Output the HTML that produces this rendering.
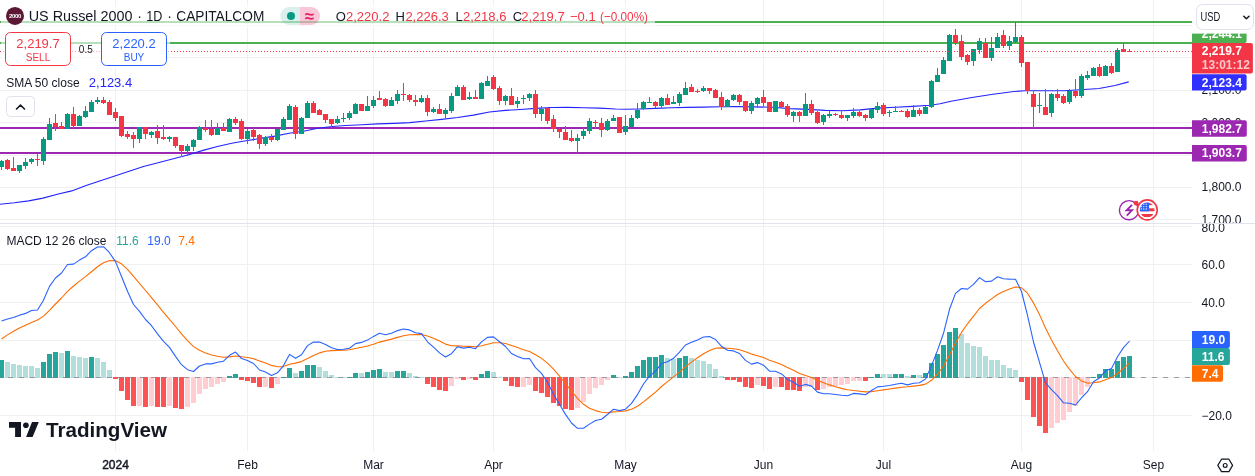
<!DOCTYPE html>
<html><head><meta charset="utf-8"><style>
*{margin:0;padding:0;box-sizing:border-box}
html,body{width:1255px;height:476px;overflow:hidden;background:#fff}
body{position:relative;font-family:"Liberation Sans",Arial,sans-serif;color:#131722}
.a{position:absolute;white-space:pre;line-height:1}
svg{position:absolute;left:0;top:0}
</style></head><body>
<svg width="1255" height="476" viewBox="0 0 1255 476">
<line x1="0" y1="25.5" x2="1192" y2="25.5" stroke="#f0f0f0" stroke-width="1"/>
<line x1="0" y1="57.5" x2="1192" y2="57.5" stroke="#f0f0f0" stroke-width="1"/>
<line x1="0" y1="90.5" x2="1192" y2="90.5" stroke="#f0f0f0" stroke-width="1"/>
<line x1="0" y1="122.5" x2="1192" y2="122.5" stroke="#f0f0f0" stroke-width="1"/>
<line x1="0" y1="155.5" x2="1192" y2="155.5" stroke="#f0f0f0" stroke-width="1"/>
<line x1="0" y1="187.5" x2="1192" y2="187.5" stroke="#f0f0f0" stroke-width="1"/>
<line x1="0" y1="219.5" x2="1192" y2="219.5" stroke="#f0f0f0" stroke-width="1"/>
<line x1="0" y1="226.5" x2="1192" y2="226.5" stroke="#f0f0f0" stroke-width="1"/>
<line x1="0" y1="264.5" x2="1192" y2="264.5" stroke="#f0f0f0" stroke-width="1"/>
<line x1="0" y1="302.5" x2="1192" y2="302.5" stroke="#f0f0f0" stroke-width="1"/>
<line x1="0" y1="340.5" x2="1192" y2="340.5" stroke="#f0f0f0" stroke-width="1"/>
<line x1="0" y1="377.5" x2="1192" y2="377.5" stroke="#f0f0f0" stroke-width="1"/>
<line x1="0" y1="415.5" x2="1192" y2="415.5" stroke="#f0f0f0" stroke-width="1"/>
<line x1="115.5" y1="0" x2="115.5" y2="223" stroke="#f0f0f0" stroke-width="1"/>
<line x1="115.5" y1="224" x2="115.5" y2="451" stroke="#f0f0f0" stroke-width="1"/>
<line x1="247.5" y1="0" x2="247.5" y2="223" stroke="#f0f0f0" stroke-width="1"/>
<line x1="247.5" y1="224" x2="247.5" y2="451" stroke="#f0f0f0" stroke-width="1"/>
<line x1="373.5" y1="0" x2="373.5" y2="223" stroke="#f0f0f0" stroke-width="1"/>
<line x1="373.5" y1="224" x2="373.5" y2="451" stroke="#f0f0f0" stroke-width="1"/>
<line x1="493.5" y1="0" x2="493.5" y2="223" stroke="#f0f0f0" stroke-width="1"/>
<line x1="493.5" y1="224" x2="493.5" y2="451" stroke="#f0f0f0" stroke-width="1"/>
<line x1="625.5" y1="0" x2="625.5" y2="223" stroke="#f0f0f0" stroke-width="1"/>
<line x1="625.5" y1="224" x2="625.5" y2="451" stroke="#f0f0f0" stroke-width="1"/>
<line x1="763.5" y1="0" x2="763.5" y2="223" stroke="#f0f0f0" stroke-width="1"/>
<line x1="763.5" y1="224" x2="763.5" y2="451" stroke="#f0f0f0" stroke-width="1"/>
<line x1="883.5" y1="0" x2="883.5" y2="223" stroke="#f0f0f0" stroke-width="1"/>
<line x1="883.5" y1="224" x2="883.5" y2="451" stroke="#f0f0f0" stroke-width="1"/>
<line x1="1021.5" y1="0" x2="1021.5" y2="223" stroke="#f0f0f0" stroke-width="1"/>
<line x1="1021.5" y1="224" x2="1021.5" y2="451" stroke="#f0f0f0" stroke-width="1"/>
<line x1="1153.5" y1="0" x2="1153.5" y2="223" stroke="#f0f0f0" stroke-width="1"/>
<line x1="1153.5" y1="224" x2="1153.5" y2="451" stroke="#f0f0f0" stroke-width="1"/>
<line x1="0" y1="22" x2="1192" y2="22" stroke="#4caf50" stroke-width="2"/>
<line x1="0" y1="43" x2="1192" y2="43" stroke="#4caf50" stroke-width="2"/>
<line x1="0" y1="128" x2="1192" y2="128" stroke="#9c27b0" stroke-width="2"/>
<line x1="0" y1="153" x2="1192" y2="153" stroke="#9c27b0" stroke-width="2"/>
<polyline points="0.0,204.2 14.3,202.8 28.7,200.9 43.0,198.1 57.4,194.2 71.7,190.9 86.1,185.6 100.4,180.8 114.8,176.1 129.1,171.2 143.5,166.5 160.0,162.3 174.3,158.5 188.7,154.7 203.0,150.4 217.4,146.5 231.7,143.2 246.0,140.8 260.4,138.4 274.8,136.1 289.1,133.2 303.5,131.2 317.8,128.3 332.2,126.5 345.9,125.5 361.9,124.7 377.8,123.9 393.7,123.4 409.7,122.6 425.6,121.0 441.6,119.4 457.5,117.5 473.4,115.1 489.4,112.0 505.3,110.4 520.0,109.5 535.9,108.4 551.9,107.5 567.8,107.4 583.7,107.7 599.7,108.1 615.6,109.0 625.2,109.3 639.5,109.0 655.5,108.4 671.4,107.7 687.3,107.4 703.3,107.1 720.0,106.7 737.5,106.5 755.0,106.9 772.6,107.3 790.1,108.6 807.6,109.4 825.2,110.4 842.7,110.8 860.2,109.9 877.8,108.1 895.3,107.3 912.8,106.4 930.3,105.2 940.0,103.8 951.0,101.3 972.0,97.5 993.0,94.2 1014.0,91.5 1024.5,90.8 1045.0,90.7 1064.0,90.8 1080.0,89.8 1099.0,88.5 1115.0,85.5 1128.7,81.9" fill="none" stroke="#2424ff" stroke-width="1.1" stroke-linejoin="round"/>
<rect x="1" y="160" width="1" height="10" fill="#089981"/>
<rect x="-1" y="161" width="5" height="6" fill="#089981"/>
<rect x="7" y="159" width="1" height="11" fill="#f23645"/>
<rect x="5" y="160" width="5" height="9" fill="#f23645"/>
<rect x="13" y="157" width="1" height="14" fill="#f23645"/>
<rect x="11" y="168" width="5" height="3" fill="#f23645"/>
<rect x="19" y="165" width="1" height="8" fill="#089981"/>
<rect x="17" y="165" width="5" height="6" fill="#089981"/>
<rect x="25" y="158" width="1" height="11" fill="#089981"/>
<rect x="23" y="162" width="5" height="4" fill="#089981"/>
<rect x="31" y="158" width="1" height="6" fill="#089981"/>
<rect x="29" y="159" width="5" height="3" fill="#089981"/>
<rect x="37" y="154" width="1" height="12" fill="#f23645"/>
<rect x="35" y="159" width="5" height="1" fill="#f23645"/>
<rect x="43" y="137" width="1" height="28" fill="#089981"/>
<rect x="41" y="139" width="5" height="22" fill="#089981"/>
<rect x="49" y="118" width="1" height="22" fill="#089981"/>
<rect x="47" y="124" width="5" height="16" fill="#089981"/>
<rect x="55" y="114" width="1" height="17" fill="#f23645"/>
<rect x="53" y="123" width="5" height="4" fill="#f23645"/>
<rect x="61" y="122" width="1" height="7" fill="#f23645"/>
<rect x="59" y="126" width="5" height="3" fill="#f23645"/>
<rect x="67" y="113" width="1" height="16" fill="#089981"/>
<rect x="65" y="114" width="5" height="15" fill="#089981"/>
<rect x="73" y="107" width="1" height="21" fill="#f23645"/>
<rect x="71" y="114" width="5" height="12" fill="#f23645"/>
<rect x="79" y="115" width="1" height="11" fill="#089981"/>
<rect x="77" y="116" width="5" height="10" fill="#089981"/>
<rect x="85" y="106" width="1" height="12" fill="#089981"/>
<rect x="83" y="111" width="5" height="6" fill="#089981"/>
<rect x="91" y="100" width="1" height="12" fill="#089981"/>
<rect x="89" y="102" width="5" height="10" fill="#089981"/>
<rect x="97" y="97" width="1" height="7" fill="#089981"/>
<rect x="95" y="100" width="5" height="2" fill="#089981"/>
<rect x="103" y="97" width="1" height="7" fill="#f23645"/>
<rect x="101" y="100" width="5" height="3" fill="#f23645"/>
<rect x="109" y="100" width="1" height="15" fill="#f23645"/>
<rect x="107" y="102" width="5" height="13" fill="#f23645"/>
<rect x="115" y="108" width="1" height="13" fill="#f23645"/>
<rect x="113" y="112" width="5" height="6" fill="#f23645"/>
<rect x="121" y="116" width="1" height="21" fill="#f23645"/>
<rect x="119" y="116" width="5" height="20" fill="#f23645"/>
<rect x="127" y="131" width="1" height="8" fill="#f23645"/>
<rect x="125" y="134" width="5" height="3" fill="#f23645"/>
<rect x="133" y="132" width="1" height="16" fill="#f23645"/>
<rect x="131" y="135" width="5" height="4" fill="#f23645"/>
<rect x="139" y="127" width="1" height="16" fill="#089981"/>
<rect x="137" y="127" width="5" height="12" fill="#089981"/>
<rect x="145" y="127" width="1" height="12" fill="#f23645"/>
<rect x="143" y="127" width="5" height="7" fill="#f23645"/>
<rect x="151" y="131" width="1" height="7" fill="#089981"/>
<rect x="149" y="132" width="5" height="3" fill="#089981"/>
<rect x="157" y="125" width="1" height="19" fill="#f23645"/>
<rect x="155" y="131" width="5" height="7" fill="#f23645"/>
<rect x="163" y="125" width="1" height="15" fill="#f23645"/>
<rect x="161" y="137" width="5" height="2" fill="#f23645"/>
<rect x="169" y="136" width="1" height="6" fill="#089981"/>
<rect x="167" y="137" width="5" height="2" fill="#089981"/>
<rect x="175" y="137" width="1" height="11" fill="#f23645"/>
<rect x="173" y="137" width="5" height="9" fill="#f23645"/>
<rect x="181" y="145" width="1" height="12" fill="#f23645"/>
<rect x="179" y="145" width="5" height="6" fill="#f23645"/>
<rect x="187" y="144" width="1" height="12" fill="#089981"/>
<rect x="185" y="146" width="5" height="5" fill="#089981"/>
<rect x="193" y="139" width="1" height="12" fill="#089981"/>
<rect x="191" y="140" width="5" height="7" fill="#089981"/>
<rect x="199" y="126" width="1" height="14" fill="#089981"/>
<rect x="197" y="127" width="5" height="13" fill="#089981"/>
<rect x="205" y="120" width="1" height="12" fill="#f23645"/>
<rect x="203" y="128" width="5" height="2" fill="#f23645"/>
<rect x="211" y="120" width="1" height="16" fill="#f23645"/>
<rect x="209" y="129" width="5" height="6" fill="#f23645"/>
<rect x="217" y="123" width="1" height="12" fill="#089981"/>
<rect x="215" y="128" width="5" height="7" fill="#089981"/>
<rect x="223" y="123" width="1" height="8" fill="#f23645"/>
<rect x="221" y="128" width="5" height="3" fill="#f23645"/>
<rect x="229" y="118" width="1" height="14" fill="#089981"/>
<rect x="227" y="119" width="5" height="13" fill="#089981"/>
<rect x="235" y="117" width="1" height="8" fill="#f23645"/>
<rect x="233" y="119" width="5" height="4" fill="#f23645"/>
<rect x="241" y="119" width="1" height="21" fill="#f23645"/>
<rect x="239" y="121" width="5" height="18" fill="#f23645"/>
<rect x="247" y="129" width="1" height="15" fill="#089981"/>
<rect x="245" y="131" width="5" height="8" fill="#089981"/>
<rect x="253" y="128" width="1" height="13" fill="#f23645"/>
<rect x="251" y="130" width="5" height="7" fill="#f23645"/>
<rect x="259" y="134" width="1" height="15" fill="#f23645"/>
<rect x="257" y="135" width="5" height="9" fill="#f23645"/>
<rect x="265" y="136" width="1" height="10" fill="#089981"/>
<rect x="263" y="137" width="5" height="7" fill="#089981"/>
<rect x="271" y="134" width="1" height="8" fill="#f23645"/>
<rect x="269" y="137" width="5" height="3" fill="#f23645"/>
<rect x="277" y="129" width="1" height="12" fill="#089981"/>
<rect x="275" y="129" width="5" height="11" fill="#089981"/>
<rect x="283" y="117" width="1" height="13" fill="#089981"/>
<rect x="281" y="119" width="5" height="11" fill="#089981"/>
<rect x="289" y="104" width="1" height="16" fill="#089981"/>
<rect x="287" y="106" width="5" height="14" fill="#089981"/>
<rect x="295" y="105" width="1" height="34" fill="#f23645"/>
<rect x="293" y="107" width="5" height="27" fill="#f23645"/>
<rect x="301" y="117" width="1" height="17" fill="#089981"/>
<rect x="299" y="118" width="5" height="16" fill="#089981"/>
<rect x="307" y="101" width="1" height="17" fill="#089981"/>
<rect x="305" y="103" width="5" height="15" fill="#089981"/>
<rect x="313" y="101" width="1" height="12" fill="#f23645"/>
<rect x="311" y="103" width="5" height="10" fill="#f23645"/>
<rect x="319" y="109" width="1" height="6" fill="#f23645"/>
<rect x="317" y="110" width="5" height="5" fill="#f23645"/>
<rect x="325" y="114" width="1" height="9" fill="#f23645"/>
<rect x="323" y="114" width="5" height="6" fill="#f23645"/>
<rect x="331" y="119" width="1" height="9" fill="#f23645"/>
<rect x="329" y="119" width="5" height="5" fill="#f23645"/>
<rect x="337" y="116" width="1" height="8" fill="#089981"/>
<rect x="335" y="119" width="5" height="4" fill="#089981"/>
<rect x="343" y="113" width="1" height="9" fill="#089981"/>
<rect x="341" y="118" width="5" height="1" fill="#089981"/>
<rect x="349" y="111" width="1" height="9" fill="#089981"/>
<rect x="347" y="113" width="5" height="5" fill="#089981"/>
<rect x="355" y="103" width="1" height="11" fill="#089981"/>
<rect x="353" y="104" width="5" height="10" fill="#089981"/>
<rect x="361" y="104" width="1" height="7" fill="#f23645"/>
<rect x="359" y="104" width="5" height="7" fill="#f23645"/>
<rect x="367" y="96" width="1" height="15" fill="#089981"/>
<rect x="365" y="106" width="5" height="5" fill="#089981"/>
<rect x="373" y="96" width="1" height="12" fill="#089981"/>
<rect x="371" y="100" width="5" height="6" fill="#089981"/>
<rect x="379" y="91" width="1" height="9" fill="#f23645"/>
<rect x="377" y="98" width="5" height="2" fill="#f23645"/>
<rect x="385" y="98" width="1" height="9" fill="#f23645"/>
<rect x="383" y="99" width="5" height="7" fill="#f23645"/>
<rect x="391" y="97" width="1" height="9" fill="#089981"/>
<rect x="389" y="100" width="5" height="6" fill="#089981"/>
<rect x="397" y="90" width="1" height="14" fill="#089981"/>
<rect x="395" y="94" width="5" height="7" fill="#089981"/>
<rect x="403" y="83" width="1" height="18" fill="#f23645"/>
<rect x="401" y="94" width="5" height="1" fill="#f23645"/>
<rect x="409" y="94" width="1" height="8" fill="#f23645"/>
<rect x="407" y="95" width="5" height="5" fill="#f23645"/>
<rect x="415" y="95" width="1" height="11" fill="#f23645"/>
<rect x="413" y="100" width="5" height="2" fill="#f23645"/>
<rect x="421" y="95" width="1" height="8" fill="#089981"/>
<rect x="419" y="98" width="5" height="4" fill="#089981"/>
<rect x="427" y="95" width="1" height="21" fill="#f23645"/>
<rect x="425" y="98" width="5" height="14" fill="#f23645"/>
<rect x="433" y="107" width="1" height="6" fill="#089981"/>
<rect x="431" y="109" width="5" height="3" fill="#089981"/>
<rect x="439" y="104" width="1" height="10" fill="#f23645"/>
<rect x="437" y="109" width="5" height="5" fill="#f23645"/>
<rect x="445" y="108" width="1" height="11" fill="#089981"/>
<rect x="443" y="110" width="5" height="4" fill="#089981"/>
<rect x="451" y="93" width="1" height="20" fill="#089981"/>
<rect x="449" y="96" width="5" height="15" fill="#089981"/>
<rect x="457" y="85" width="1" height="11" fill="#089981"/>
<rect x="455" y="87" width="5" height="9" fill="#089981"/>
<rect x="463" y="85" width="1" height="15" fill="#f23645"/>
<rect x="461" y="87" width="5" height="13" fill="#f23645"/>
<rect x="469" y="92" width="1" height="8" fill="#089981"/>
<rect x="467" y="97" width="5" height="2" fill="#089981"/>
<rect x="475" y="90" width="1" height="9" fill="#f23645"/>
<rect x="473" y="97" width="5" height="2" fill="#f23645"/>
<rect x="481" y="82" width="1" height="17" fill="#089981"/>
<rect x="479" y="83" width="5" height="16" fill="#089981"/>
<rect x="487" y="76" width="1" height="10" fill="#089981"/>
<rect x="485" y="81" width="5" height="5" fill="#089981"/>
<rect x="493" y="75" width="1" height="15" fill="#f23645"/>
<rect x="491" y="77" width="5" height="12" fill="#f23645"/>
<rect x="499" y="86" width="1" height="19" fill="#f23645"/>
<rect x="497" y="88" width="5" height="13" fill="#f23645"/>
<rect x="505" y="95" width="1" height="10" fill="#089981"/>
<rect x="503" y="96" width="5" height="5" fill="#089981"/>
<rect x="511" y="88" width="1" height="17" fill="#f23645"/>
<rect x="509" y="96" width="5" height="9" fill="#f23645"/>
<rect x="517" y="97" width="1" height="11" fill="#089981"/>
<rect x="515" y="101" width="5" height="3" fill="#089981"/>
<rect x="523" y="95" width="1" height="9" fill="#089981"/>
<rect x="521" y="98" width="5" height="1" fill="#089981"/>
<rect x="529" y="93" width="1" height="8" fill="#089981"/>
<rect x="527" y="94" width="5" height="4" fill="#089981"/>
<rect x="535" y="90" width="1" height="28" fill="#f23645"/>
<rect x="533" y="94" width="5" height="20" fill="#f23645"/>
<rect x="541" y="106" width="1" height="15" fill="#089981"/>
<rect x="539" y="109" width="5" height="5" fill="#089981"/>
<rect x="547" y="107" width="1" height="17" fill="#f23645"/>
<rect x="545" y="108" width="5" height="13" fill="#f23645"/>
<rect x="553" y="115" width="1" height="17" fill="#f23645"/>
<rect x="551" y="119" width="5" height="10" fill="#f23645"/>
<rect x="559" y="128" width="1" height="10" fill="#f23645"/>
<rect x="557" y="129" width="5" height="3" fill="#f23645"/>
<rect x="565" y="126" width="1" height="14" fill="#f23645"/>
<rect x="563" y="132" width="5" height="8" fill="#f23645"/>
<rect x="571" y="130" width="1" height="12" fill="#f23645"/>
<rect x="569" y="138" width="5" height="3" fill="#f23645"/>
<rect x="577" y="134" width="1" height="19" fill="#089981"/>
<rect x="575" y="138" width="5" height="3" fill="#089981"/>
<rect x="583" y="128" width="1" height="11" fill="#089981"/>
<rect x="581" y="131" width="5" height="5" fill="#089981"/>
<rect x="589" y="118" width="1" height="16" fill="#089981"/>
<rect x="587" y="121" width="5" height="10" fill="#089981"/>
<rect x="595" y="120" width="1" height="8" fill="#f23645"/>
<rect x="593" y="122" width="5" height="1" fill="#f23645"/>
<rect x="601" y="118" width="1" height="19" fill="#f23645"/>
<rect x="599" y="123" width="5" height="7" fill="#f23645"/>
<rect x="607" y="119" width="1" height="12" fill="#089981"/>
<rect x="605" y="121" width="5" height="9" fill="#089981"/>
<rect x="613" y="115" width="1" height="6" fill="#089981"/>
<rect x="611" y="118" width="5" height="3" fill="#089981"/>
<rect x="619" y="117" width="1" height="16" fill="#f23645"/>
<rect x="617" y="117" width="5" height="16" fill="#f23645"/>
<rect x="625" y="115" width="1" height="20" fill="#089981"/>
<rect x="623" y="126" width="5" height="6" fill="#089981"/>
<rect x="631" y="115" width="1" height="12" fill="#089981"/>
<rect x="629" y="118" width="5" height="9" fill="#089981"/>
<rect x="637" y="103" width="1" height="16" fill="#089981"/>
<rect x="635" y="110" width="5" height="8" fill="#089981"/>
<rect x="643" y="101" width="1" height="9" fill="#089981"/>
<rect x="641" y="102" width="5" height="7" fill="#089981"/>
<rect x="649" y="97" width="1" height="6" fill="#089981"/>
<rect x="647" y="102" width="5" height="1" fill="#089981"/>
<rect x="655" y="101" width="1" height="7" fill="#f23645"/>
<rect x="653" y="102" width="5" height="4" fill="#f23645"/>
<rect x="661" y="97" width="1" height="11" fill="#089981"/>
<rect x="659" y="98" width="5" height="8" fill="#089981"/>
<rect x="667" y="94" width="1" height="11" fill="#f23645"/>
<rect x="665" y="98" width="5" height="7" fill="#f23645"/>
<rect x="673" y="96" width="1" height="8" fill="#089981"/>
<rect x="671" y="102" width="5" height="2" fill="#089981"/>
<rect x="679" y="92" width="1" height="14" fill="#089981"/>
<rect x="677" y="94" width="5" height="9" fill="#089981"/>
<rect x="685" y="82" width="1" height="13" fill="#089981"/>
<rect x="683" y="88" width="5" height="7" fill="#089981"/>
<rect x="691" y="84" width="1" height="8" fill="#f23645"/>
<rect x="689" y="87" width="5" height="5" fill="#f23645"/>
<rect x="697" y="89" width="1" height="4" fill="#f23645"/>
<rect x="695" y="91" width="5" height="1" fill="#f23645"/>
<rect x="703" y="86" width="1" height="6" fill="#089981"/>
<rect x="701" y="88" width="5" height="3" fill="#089981"/>
<rect x="709" y="88" width="1" height="6" fill="#f23645"/>
<rect x="707" y="88" width="5" height="3" fill="#f23645"/>
<rect x="715" y="89" width="1" height="9" fill="#f23645"/>
<rect x="713" y="90" width="5" height="8" fill="#f23645"/>
<rect x="721" y="92" width="1" height="18" fill="#f23645"/>
<rect x="719" y="97" width="5" height="10" fill="#f23645"/>
<rect x="727" y="99" width="1" height="8" fill="#089981"/>
<rect x="725" y="100" width="5" height="7" fill="#089981"/>
<rect x="733" y="94" width="1" height="7" fill="#089981"/>
<rect x="731" y="95" width="5" height="5" fill="#089981"/>
<rect x="739" y="94" width="1" height="11" fill="#f23645"/>
<rect x="737" y="95" width="5" height="7" fill="#f23645"/>
<rect x="745" y="101" width="1" height="11" fill="#f23645"/>
<rect x="743" y="101" width="5" height="10" fill="#f23645"/>
<rect x="751" y="101" width="1" height="13" fill="#089981"/>
<rect x="749" y="103" width="5" height="8" fill="#089981"/>
<rect x="757" y="97" width="1" height="11" fill="#089981"/>
<rect x="755" y="98" width="5" height="6" fill="#089981"/>
<rect x="763" y="90" width="1" height="17" fill="#f23645"/>
<rect x="761" y="97" width="5" height="6" fill="#f23645"/>
<rect x="769" y="102" width="1" height="10" fill="#f23645"/>
<rect x="767" y="102" width="5" height="10" fill="#f23645"/>
<rect x="775" y="101" width="1" height="11" fill="#089981"/>
<rect x="773" y="101" width="5" height="11" fill="#089981"/>
<rect x="781" y="101" width="1" height="7" fill="#f23645"/>
<rect x="779" y="102" width="5" height="5" fill="#f23645"/>
<rect x="787" y="104" width="1" height="13" fill="#f23645"/>
<rect x="785" y="106" width="5" height="9" fill="#f23645"/>
<rect x="793" y="111" width="1" height="11" fill="#089981"/>
<rect x="791" y="112" width="5" height="4" fill="#089981"/>
<rect x="799" y="111" width="1" height="11" fill="#f23645"/>
<rect x="797" y="112" width="5" height="4" fill="#f23645"/>
<rect x="805" y="93" width="1" height="23" fill="#089981"/>
<rect x="803" y="104" width="5" height="12" fill="#089981"/>
<rect x="811" y="100" width="1" height="15" fill="#f23645"/>
<rect x="809" y="104" width="5" height="9" fill="#f23645"/>
<rect x="817" y="111" width="1" height="13" fill="#f23645"/>
<rect x="815" y="112" width="5" height="11" fill="#f23645"/>
<rect x="823" y="114" width="1" height="11" fill="#089981"/>
<rect x="821" y="115" width="5" height="7" fill="#089981"/>
<rect x="829" y="111" width="1" height="7" fill="#089981"/>
<rect x="827" y="114" width="5" height="2" fill="#089981"/>
<rect x="835" y="113" width="1" height="3" fill="#f23645"/>
<rect x="833" y="114" width="5" height="1" fill="#f23645"/>
<rect x="841" y="110" width="1" height="9" fill="#f23645"/>
<rect x="839" y="115" width="5" height="3" fill="#f23645"/>
<rect x="847" y="115" width="1" height="6" fill="#089981"/>
<rect x="845" y="115" width="5" height="3" fill="#089981"/>
<rect x="853" y="108" width="1" height="10" fill="#089981"/>
<rect x="851" y="112" width="5" height="4" fill="#089981"/>
<rect x="859" y="110" width="1" height="7" fill="#f23645"/>
<rect x="857" y="112" width="5" height="4" fill="#f23645"/>
<rect x="865" y="114" width="1" height="7" fill="#f23645"/>
<rect x="863" y="115" width="5" height="3" fill="#f23645"/>
<rect x="871" y="109" width="1" height="10" fill="#089981"/>
<rect x="869" y="109" width="5" height="9" fill="#089981"/>
<rect x="877" y="102" width="1" height="11" fill="#089981"/>
<rect x="875" y="106" width="5" height="4" fill="#089981"/>
<rect x="883" y="103" width="1" height="13" fill="#f23645"/>
<rect x="881" y="105" width="5" height="9" fill="#f23645"/>
<rect x="889" y="110" width="1" height="7" fill="#089981"/>
<rect x="887" y="112" width="5" height="1" fill="#089981"/>
<rect x="895" y="106" width="1" height="6" fill="#089981"/>
<rect x="893" y="111" width="5" height="1" fill="#089981"/>
<rect x="901" y="110" width="1" height="2" fill="#f23645"/>
<rect x="899" y="111" width="5" height="1" fill="#f23645"/>
<rect x="907" y="109" width="1" height="9" fill="#f23645"/>
<rect x="905" y="111" width="5" height="6" fill="#f23645"/>
<rect x="913" y="105" width="1" height="12" fill="#089981"/>
<rect x="911" y="110" width="5" height="7" fill="#089981"/>
<rect x="919" y="108" width="1" height="8" fill="#f23645"/>
<rect x="917" y="110" width="5" height="4" fill="#f23645"/>
<rect x="925" y="106" width="1" height="8" fill="#089981"/>
<rect x="923" y="107" width="5" height="7" fill="#089981"/>
<rect x="931" y="80" width="1" height="28" fill="#089981"/>
<rect x="929" y="81" width="5" height="26" fill="#089981"/>
<rect x="937" y="68" width="1" height="14" fill="#089981"/>
<rect x="935" y="75" width="5" height="7" fill="#089981"/>
<rect x="943" y="57" width="1" height="17" fill="#089981"/>
<rect x="941" y="60" width="5" height="14" fill="#089981"/>
<rect x="949" y="34" width="1" height="27" fill="#089981"/>
<rect x="947" y="35" width="5" height="26" fill="#089981"/>
<rect x="955" y="29" width="1" height="16" fill="#f23645"/>
<rect x="953" y="35" width="5" height="8" fill="#f23645"/>
<rect x="961" y="35" width="1" height="25" fill="#f23645"/>
<rect x="959" y="41" width="5" height="16" fill="#f23645"/>
<rect x="967" y="54" width="1" height="11" fill="#f23645"/>
<rect x="965" y="55" width="5" height="7" fill="#f23645"/>
<rect x="973" y="49" width="1" height="17" fill="#089981"/>
<rect x="971" y="49" width="5" height="12" fill="#089981"/>
<rect x="979" y="38" width="1" height="16" fill="#089981"/>
<rect x="977" y="41" width="5" height="9" fill="#089981"/>
<rect x="985" y="38" width="1" height="20" fill="#f23645"/>
<rect x="983" y="43" width="5" height="15" fill="#f23645"/>
<rect x="991" y="37" width="1" height="24" fill="#089981"/>
<rect x="989" y="48" width="5" height="10" fill="#089981"/>
<rect x="997" y="33" width="1" height="15" fill="#089981"/>
<rect x="995" y="37" width="5" height="11" fill="#089981"/>
<rect x="1003" y="30" width="1" height="18" fill="#f23645"/>
<rect x="1001" y="35" width="5" height="11" fill="#f23645"/>
<rect x="1009" y="36" width="1" height="14" fill="#089981"/>
<rect x="1007" y="41" width="5" height="5" fill="#089981"/>
<rect x="1015" y="22" width="1" height="21" fill="#089981"/>
<rect x="1013" y="37" width="5" height="5" fill="#089981"/>
<rect x="1021" y="35" width="1" height="32" fill="#f23645"/>
<rect x="1019" y="37" width="5" height="26" fill="#f23645"/>
<rect x="1027" y="62" width="1" height="32" fill="#f23645"/>
<rect x="1025" y="62" width="5" height="29" fill="#f23645"/>
<rect x="1033" y="90" width="1" height="38" fill="#f23645"/>
<rect x="1031" y="94" width="5" height="13" fill="#f23645"/>
<rect x="1039" y="93" width="1" height="20" fill="#089981"/>
<rect x="1037" y="105" width="5" height="1" fill="#089981"/>
<rect x="1045" y="89" width="1" height="26" fill="#f23645"/>
<rect x="1043" y="107" width="5" height="8" fill="#f23645"/>
<rect x="1051" y="93" width="1" height="24" fill="#089981"/>
<rect x="1049" y="94" width="5" height="19" fill="#089981"/>
<rect x="1057" y="89" width="1" height="12" fill="#f23645"/>
<rect x="1055" y="94" width="5" height="4" fill="#f23645"/>
<rect x="1063" y="94" width="1" height="10" fill="#f23645"/>
<rect x="1061" y="96" width="5" height="7" fill="#f23645"/>
<rect x="1069" y="89" width="1" height="15" fill="#089981"/>
<rect x="1067" y="91" width="5" height="11" fill="#089981"/>
<rect x="1075" y="79" width="1" height="19" fill="#f23645"/>
<rect x="1073" y="91" width="5" height="5" fill="#f23645"/>
<rect x="1081" y="74" width="1" height="24" fill="#089981"/>
<rect x="1079" y="76" width="5" height="20" fill="#089981"/>
<rect x="1087" y="71" width="1" height="9" fill="#089981"/>
<rect x="1085" y="75" width="5" height="3" fill="#089981"/>
<rect x="1093" y="67" width="1" height="9" fill="#089981"/>
<rect x="1091" y="68" width="5" height="8" fill="#089981"/>
<rect x="1099" y="64" width="1" height="13" fill="#f23645"/>
<rect x="1097" y="67" width="5" height="9" fill="#f23645"/>
<rect x="1105" y="65" width="1" height="11" fill="#089981"/>
<rect x="1103" y="66" width="5" height="10" fill="#089981"/>
<rect x="1111" y="63" width="1" height="11" fill="#f23645"/>
<rect x="1109" y="66" width="5" height="7" fill="#f23645"/>
<rect x="1117" y="48" width="1" height="24" fill="#089981"/>
<rect x="1115" y="50" width="5" height="22" fill="#089981"/>
<rect x="1123" y="43" width="1" height="9" fill="#f23645"/>
<rect x="1121" y="49" width="5" height="3" fill="#f23645"/>
<rect x="1129" y="49" width="1" height="3" fill="#f23645"/>
<rect x="1127" y="51" width="5" height="1" fill="#f23645"/>
<line x1="0" y1="51.5" x2="1192" y2="51.5" stroke="#f23645" stroke-width="1" stroke-dasharray="1 2"/>
<rect x="-1" y="360" width="5" height="18" fill="#26a69a"/>
<rect x="5" y="362" width="5" height="16" fill="#b2dfdb"/>
<rect x="11" y="364" width="5" height="14" fill="#b2dfdb"/>
<rect x="17" y="365" width="5" height="13" fill="#b2dfdb"/>
<rect x="23" y="366" width="5" height="12" fill="#b2dfdb"/>
<rect x="29" y="366" width="5" height="12" fill="#b2dfdb"/>
<rect x="35" y="368" width="5" height="10" fill="#b2dfdb"/>
<rect x="41" y="362" width="5" height="16" fill="#26a69a"/>
<rect x="47" y="354" width="5" height="24" fill="#26a69a"/>
<rect x="53" y="352" width="5" height="26" fill="#26a69a"/>
<rect x="59" y="353" width="5" height="25" fill="#b2dfdb"/>
<rect x="65" y="351" width="5" height="27" fill="#26a69a"/>
<rect x="71" y="356" width="5" height="22" fill="#b2dfdb"/>
<rect x="77" y="357" width="5" height="21" fill="#b2dfdb"/>
<rect x="83" y="358" width="5" height="20" fill="#b2dfdb"/>
<rect x="89" y="357" width="5" height="21" fill="#26a69a"/>
<rect x="95" y="358" width="5" height="20" fill="#b2dfdb"/>
<rect x="101" y="362" width="5" height="16" fill="#b2dfdb"/>
<rect x="107" y="370" width="5" height="8" fill="#b2dfdb"/>
<rect x="113" y="377" width="5" height="2" fill="#ff5252"/>
<rect x="119" y="377" width="5" height="14" fill="#ff5252"/>
<rect x="125" y="377" width="5" height="23" fill="#ff5252"/>
<rect x="131" y="377" width="5" height="29" fill="#ff5252"/>
<rect x="137" y="377" width="5" height="29" fill="#ffcdd2"/>
<rect x="143" y="377" width="5" height="30" fill="#ff5252"/>
<rect x="149" y="377" width="5" height="29" fill="#ffcdd2"/>
<rect x="155" y="377" width="5" height="30" fill="#ff5252"/>
<rect x="161" y="377" width="5" height="30" fill="#ff5252"/>
<rect x="167" y="377" width="5" height="29" fill="#ffcdd2"/>
<rect x="173" y="377" width="5" height="31" fill="#ff5252"/>
<rect x="179" y="377" width="5" height="32" fill="#ff5252"/>
<rect x="185" y="377" width="5" height="30" fill="#ffcdd2"/>
<rect x="191" y="377" width="5" height="26" fill="#ffcdd2"/>
<rect x="197" y="377" width="5" height="17" fill="#ffcdd2"/>
<rect x="203" y="377" width="5" height="12" fill="#ffcdd2"/>
<rect x="209" y="377" width="5" height="10" fill="#ffcdd2"/>
<rect x="215" y="377" width="5" height="7" fill="#ffcdd2"/>
<rect x="221" y="377" width="5" height="5" fill="#ffcdd2"/>
<rect x="227" y="376" width="5" height="2" fill="#26a69a"/>
<rect x="233" y="374" width="5" height="4" fill="#26a69a"/>
<rect x="239" y="377" width="5" height="3" fill="#ff5252"/>
<rect x="245" y="377" width="5" height="4" fill="#ff5252"/>
<rect x="251" y="377" width="5" height="6" fill="#ff5252"/>
<rect x="257" y="377" width="5" height="10" fill="#ff5252"/>
<rect x="263" y="377" width="5" height="10" fill="#ffcdd2"/>
<rect x="269" y="377" width="5" height="11" fill="#ff5252"/>
<rect x="275" y="377" width="5" height="7" fill="#ffcdd2"/>
<rect x="281" y="377" width="5" height="1" fill="#26a69a"/>
<rect x="287" y="368" width="5" height="10" fill="#26a69a"/>
<rect x="293" y="373" width="5" height="5" fill="#b2dfdb"/>
<rect x="299" y="371" width="5" height="7" fill="#26a69a"/>
<rect x="305" y="365" width="5" height="13" fill="#26a69a"/>
<rect x="311" y="365" width="5" height="13" fill="#26a69a"/>
<rect x="317" y="367" width="5" height="11" fill="#b2dfdb"/>
<rect x="323" y="371" width="5" height="7" fill="#b2dfdb"/>
<rect x="329" y="375" width="5" height="3" fill="#b2dfdb"/>
<rect x="335" y="377" width="5" height="1" fill="#b2dfdb"/>
<rect x="341" y="377" width="5" height="1" fill="#b2dfdb"/>
<rect x="347" y="377" width="5" height="1" fill="#26a69a"/>
<rect x="353" y="373" width="5" height="5" fill="#26a69a"/>
<rect x="359" y="373" width="5" height="5" fill="#b2dfdb"/>
<rect x="365" y="372" width="5" height="6" fill="#26a69a"/>
<rect x="371" y="370" width="5" height="8" fill="#26a69a"/>
<rect x="377" y="369" width="5" height="9" fill="#26a69a"/>
<rect x="383" y="372" width="5" height="6" fill="#b2dfdb"/>
<rect x="389" y="372" width="5" height="6" fill="#b2dfdb"/>
<rect x="395" y="371" width="5" height="7" fill="#26a69a"/>
<rect x="401" y="371" width="5" height="7" fill="#26a69a"/>
<rect x="407" y="373" width="5" height="5" fill="#b2dfdb"/>
<rect x="413" y="376" width="5" height="2" fill="#b2dfdb"/>
<rect x="419" y="377" width="5" height="1" fill="#b2dfdb"/>
<rect x="425" y="377" width="5" height="7" fill="#ff5252"/>
<rect x="431" y="377" width="5" height="10" fill="#ff5252"/>
<rect x="437" y="377" width="5" height="13" fill="#ff5252"/>
<rect x="443" y="377" width="5" height="14" fill="#ff5252"/>
<rect x="449" y="377" width="5" height="9" fill="#ffcdd2"/>
<rect x="455" y="377" width="5" height="2" fill="#ffcdd2"/>
<rect x="461" y="377" width="5" height="3" fill="#ff5252"/>
<rect x="467" y="377" width="5" height="2" fill="#ffcdd2"/>
<rect x="473" y="377" width="5" height="3" fill="#ff5252"/>
<rect x="479" y="374" width="5" height="4" fill="#26a69a"/>
<rect x="485" y="371" width="5" height="7" fill="#26a69a"/>
<rect x="491" y="372" width="5" height="6" fill="#b2dfdb"/>
<rect x="497" y="377" width="5" height="1" fill="#b2dfdb"/>
<rect x="503" y="377" width="5" height="4" fill="#ff5252"/>
<rect x="509" y="377" width="5" height="9" fill="#ff5252"/>
<rect x="515" y="377" width="5" height="10" fill="#ff5252"/>
<rect x="521" y="377" width="5" height="10" fill="#ffcdd2"/>
<rect x="527" y="377" width="5" height="8" fill="#ffcdd2"/>
<rect x="533" y="377" width="5" height="14" fill="#ff5252"/>
<rect x="539" y="377" width="5" height="16" fill="#ff5252"/>
<rect x="545" y="377" width="5" height="20" fill="#ff5252"/>
<rect x="551" y="377" width="5" height="26" fill="#ff5252"/>
<rect x="557" y="377" width="5" height="29" fill="#ff5252"/>
<rect x="563" y="377" width="5" height="32" fill="#ff5252"/>
<rect x="569" y="377" width="5" height="33" fill="#ff5252"/>
<rect x="575" y="377" width="5" height="31" fill="#ffcdd2"/>
<rect x="581" y="377" width="5" height="25" fill="#ffcdd2"/>
<rect x="587" y="377" width="5" height="17" fill="#ffcdd2"/>
<rect x="593" y="377" width="5" height="11" fill="#ffcdd2"/>
<rect x="599" y="377" width="5" height="8" fill="#ffcdd2"/>
<rect x="605" y="377" width="5" height="3" fill="#ffcdd2"/>
<rect x="611" y="375" width="5" height="3" fill="#26a69a"/>
<rect x="617" y="377" width="5" height="1" fill="#b2dfdb"/>
<rect x="623" y="376" width="5" height="2" fill="#26a69a"/>
<rect x="629" y="372" width="5" height="6" fill="#26a69a"/>
<rect x="635" y="366" width="5" height="12" fill="#26a69a"/>
<rect x="641" y="360" width="5" height="18" fill="#26a69a"/>
<rect x="647" y="357" width="5" height="21" fill="#26a69a"/>
<rect x="653" y="357" width="5" height="21" fill="#26a69a"/>
<rect x="659" y="355" width="5" height="23" fill="#26a69a"/>
<rect x="665" y="358" width="5" height="20" fill="#b2dfdb"/>
<rect x="671" y="359" width="5" height="19" fill="#b2dfdb"/>
<rect x="677" y="358" width="5" height="20" fill="#26a69a"/>
<rect x="683" y="356" width="5" height="22" fill="#26a69a"/>
<rect x="689" y="358" width="5" height="20" fill="#b2dfdb"/>
<rect x="695" y="360" width="5" height="18" fill="#b2dfdb"/>
<rect x="701" y="361" width="5" height="17" fill="#b2dfdb"/>
<rect x="707" y="364" width="5" height="14" fill="#b2dfdb"/>
<rect x="713" y="369" width="5" height="9" fill="#b2dfdb"/>
<rect x="719" y="376" width="5" height="2" fill="#b2dfdb"/>
<rect x="725" y="377" width="5" height="3" fill="#ff5252"/>
<rect x="731" y="377" width="5" height="3" fill="#ff5252"/>
<rect x="737" y="377" width="5" height="5" fill="#ff5252"/>
<rect x="743" y="377" width="5" height="10" fill="#ff5252"/>
<rect x="749" y="377" width="5" height="11" fill="#ff5252"/>
<rect x="755" y="377" width="5" height="8" fill="#ffcdd2"/>
<rect x="761" y="377" width="5" height="9" fill="#ff5252"/>
<rect x="767" y="377" width="5" height="12" fill="#ff5252"/>
<rect x="773" y="377" width="5" height="10" fill="#ffcdd2"/>
<rect x="779" y="377" width="5" height="10" fill="#ff5252"/>
<rect x="785" y="377" width="5" height="13" fill="#ff5252"/>
<rect x="791" y="377" width="5" height="13" fill="#ff5252"/>
<rect x="797" y="377" width="5" height="14" fill="#ff5252"/>
<rect x="803" y="377" width="5" height="10" fill="#ffcdd2"/>
<rect x="809" y="377" width="5" height="10" fill="#ffcdd2"/>
<rect x="815" y="377" width="5" height="13" fill="#ff5252"/>
<rect x="821" y="377" width="5" height="12" fill="#ffcdd2"/>
<rect x="827" y="377" width="5" height="10" fill="#ffcdd2"/>
<rect x="833" y="377" width="5" height="9" fill="#ffcdd2"/>
<rect x="839" y="377" width="5" height="8" fill="#ffcdd2"/>
<rect x="845" y="377" width="5" height="7" fill="#ffcdd2"/>
<rect x="851" y="377" width="5" height="4" fill="#ffcdd2"/>
<rect x="857" y="377" width="5" height="4" fill="#ffcdd2"/>
<rect x="863" y="377" width="5" height="4" fill="#ff5252"/>
<rect x="869" y="377" width="5" height="1" fill="#26a69a"/>
<rect x="875" y="374" width="5" height="4" fill="#26a69a"/>
<rect x="881" y="374" width="5" height="4" fill="#b2dfdb"/>
<rect x="887" y="374" width="5" height="4" fill="#b2dfdb"/>
<rect x="893" y="374" width="5" height="4" fill="#26a69a"/>
<rect x="899" y="374" width="5" height="4" fill="#26a69a"/>
<rect x="905" y="376" width="5" height="2" fill="#b2dfdb"/>
<rect x="911" y="375" width="5" height="3" fill="#26a69a"/>
<rect x="917" y="375" width="5" height="3" fill="#b2dfdb"/>
<rect x="923" y="373" width="5" height="5" fill="#26a69a"/>
<rect x="929" y="363" width="5" height="15" fill="#26a69a"/>
<rect x="935" y="354" width="5" height="24" fill="#26a69a"/>
<rect x="941" y="345" width="5" height="33" fill="#26a69a"/>
<rect x="947" y="332" width="5" height="46" fill="#26a69a"/>
<rect x="953" y="328" width="5" height="50" fill="#26a69a"/>
<rect x="959" y="334" width="5" height="44" fill="#b2dfdb"/>
<rect x="965" y="343" width="5" height="35" fill="#b2dfdb"/>
<rect x="971" y="346" width="5" height="32" fill="#b2dfdb"/>
<rect x="977" y="347" width="5" height="31" fill="#b2dfdb"/>
<rect x="983" y="356" width="5" height="22" fill="#b2dfdb"/>
<rect x="989" y="360" width="5" height="18" fill="#b2dfdb"/>
<rect x="995" y="360" width="5" height="18" fill="#b2dfdb"/>
<rect x="1001" y="365" width="5" height="13" fill="#b2dfdb"/>
<rect x="1007" y="368" width="5" height="10" fill="#b2dfdb"/>
<rect x="1013" y="370" width="5" height="8" fill="#b2dfdb"/>
<rect x="1019" y="377" width="5" height="5" fill="#ff5252"/>
<rect x="1025" y="377" width="5" height="23" fill="#ff5252"/>
<rect x="1031" y="377" width="5" height="40" fill="#ff5252"/>
<rect x="1037" y="377" width="5" height="49" fill="#ff5252"/>
<rect x="1043" y="377" width="5" height="56" fill="#ff5252"/>
<rect x="1049" y="377" width="5" height="51" fill="#ffcdd2"/>
<rect x="1055" y="377" width="5" height="46" fill="#ffcdd2"/>
<rect x="1061" y="377" width="5" height="43" fill="#ffcdd2"/>
<rect x="1067" y="377" width="5" height="35" fill="#ffcdd2"/>
<rect x="1073" y="377" width="5" height="29" fill="#ffcdd2"/>
<rect x="1079" y="377" width="5" height="18" fill="#ffcdd2"/>
<rect x="1085" y="377" width="5" height="10" fill="#ffcdd2"/>
<rect x="1091" y="377" width="5" height="1" fill="#26a69a"/>
<rect x="1097" y="374" width="5" height="4" fill="#26a69a"/>
<rect x="1103" y="369" width="5" height="9" fill="#26a69a"/>
<rect x="1109" y="369" width="5" height="9" fill="#26a69a"/>
<rect x="1115" y="361" width="5" height="17" fill="#26a69a"/>
<rect x="1121" y="357" width="5" height="21" fill="#26a69a"/>
<rect x="1127" y="356" width="5" height="22" fill="#26a69a"/>
<line x1="0" y1="377.5" x2="1192" y2="377.5" stroke="#787b86" stroke-opacity="0.7" stroke-width="1" stroke-dasharray="5 6" stroke-dashoffset="-8"/>
<polyline points="1.5,339.0 7.5,334.9 13.5,331.3 19.5,328.1 25.5,325.3 31.5,322.4 37.5,320.0 43.5,316.1 49.5,310.3 55.5,304.0 61.5,298.0 67.5,291.4 73.5,286.0 79.5,281.1 85.5,276.6 91.5,271.7 97.5,266.8 103.5,262.7 109.5,260.6 115.5,260.7 121.5,263.8 127.5,269.3 133.5,276.4 139.5,283.3 145.5,290.5 151.5,297.6 157.5,304.9 163.5,312.3 169.5,319.3 175.5,326.5 181.5,333.8 187.5,340.7 193.5,346.6 199.5,350.3 205.5,352.9 211.5,355.0 217.5,356.3 223.5,357.3 229.5,356.9 235.5,356.0 241.5,356.7 247.5,357.5 253.5,358.7 259.5,360.9 265.5,363.0 271.5,365.4 277.5,366.8 283.5,366.6 289.5,364.2 295.5,363.1 301.5,361.6 307.5,358.6 313.5,355.4 319.5,352.9 325.5,351.2 331.5,350.6 337.5,350.4 343.5,350.1 349.5,349.7 355.5,348.5 361.5,347.3 367.5,346.0 373.5,344.2 379.5,342.1 385.5,340.6 391.5,339.1 397.5,337.4 403.5,335.8 409.5,334.8 415.5,334.6 421.5,334.5 427.5,336.0 433.5,338.2 439.5,341.0 445.5,344.1 451.5,345.8 457.5,345.9 463.5,346.2 469.5,346.4 475.5,346.8 481.5,345.8 487.5,344.2 493.5,342.8 499.5,342.7 505.5,343.5 511.5,345.5 517.5,347.6 523.5,349.8 529.5,351.5 535.5,354.7 541.5,358.4 547.5,363.1 553.5,369.2 559.5,376.1 565.5,383.5 571.5,391.2 577.5,398.4 583.5,404.3 589.5,408.2 595.5,410.6 601.5,412.3 607.5,412.7 613.5,411.9 619.5,411.5 625.5,410.9 631.5,409.3 637.5,406.3 643.5,401.9 649.5,397.0 655.5,392.1 661.5,386.5 667.5,381.6 673.5,376.9 679.5,372.1 685.5,366.8 691.5,362.1 697.5,357.8 703.5,353.8 709.5,350.5 715.5,348.3 721.5,347.9 727.5,348.3 733.5,348.8 739.5,349.7 745.5,351.8 751.5,354.1 757.5,355.7 763.5,357.5 769.5,360.2 775.5,362.3 781.5,364.6 787.5,367.5 793.5,370.3 799.5,373.4 805.5,375.5 811.5,377.5 817.5,380.3 823.5,382.8 829.5,384.9 835.5,386.7 841.5,388.4 847.5,389.8 853.5,390.5 859.5,391.2 865.5,391.9 871.5,391.6 877.5,390.7 883.5,389.9 889.5,389.0 895.5,388.1 901.5,387.2 907.5,386.8 913.5,386.1 919.5,385.4 925.5,384.1 931.5,380.3 937.5,374.2 943.5,366.0 949.5,355.0 955.5,343.1 961.5,332.4 967.5,323.8 973.5,316.1 979.5,308.5 985.5,303.3 991.5,298.9 997.5,294.5 1003.5,291.4 1009.5,288.9 1015.5,286.9 1021.5,287.8 1027.5,293.2 1033.5,302.9 1039.5,314.6 1045.5,328.0 1051.5,340.0 1057.5,350.8 1063.5,361.0 1069.5,369.4 1075.5,376.5 1081.5,380.9 1087.5,383.1 1093.5,382.8 1099.5,381.9 1105.5,379.7 1111.5,377.6 1117.5,373.5 1123.5,368.4 1129.5,362.9" fill="none" stroke="#ff6d00" stroke-width="1.1" stroke-linejoin="round"/>
<polyline points="1.5,321.1 7.5,319.0 13.5,317.5 19.5,315.2 25.5,313.4 31.5,310.5 37.5,310.0 43.5,300.2 49.5,286.4 55.5,278.0 61.5,273.0 67.5,264.5 73.5,264.1 79.5,260.1 85.5,256.8 91.5,250.7 97.5,247.0 103.5,246.7 109.5,252.7 115.5,261.6 121.5,276.5 127.5,291.2 133.5,304.5 139.5,311.4 145.5,319.5 151.5,325.7 157.5,333.9 163.5,341.3 169.5,347.4 175.5,356.4 181.5,364.7 187.5,369.7 193.5,371.5 199.5,366.0 205.5,363.9 211.5,363.9 217.5,362.2 223.5,361.2 229.5,355.3 235.5,352.1 241.5,358.5 247.5,360.4 253.5,363.5 259.5,370.0 265.5,372.1 271.5,375.4 277.5,372.8 283.5,365.6 289.5,354.4 295.5,358.2 301.5,354.8 307.5,345.6 313.5,342.0 319.5,342.1 325.5,344.4 331.5,347.8 337.5,349.5 343.5,349.2 349.5,348.3 355.5,343.6 361.5,342.4 367.5,340.1 373.5,336.4 379.5,333.2 385.5,334.7 391.5,333.2 397.5,330.6 403.5,329.0 409.5,329.9 415.5,332.8 421.5,333.6 427.5,341.8 433.5,347.2 439.5,352.9 445.5,357.0 451.5,353.7 457.5,346.7 463.5,348.1 469.5,347.2 475.5,348.7 481.5,341.9 487.5,337.4 493.5,336.9 499.5,341.8 505.5,346.5 511.5,353.5 517.5,356.5 523.5,358.7 529.5,358.5 535.5,367.6 541.5,373.4 547.5,382.2 553.5,394.2 559.5,404.2 565.5,414.4 571.5,423.0 577.5,428.3 583.5,428.3 589.5,424.1 595.5,420.5 601.5,419.3 607.5,414.5 613.5,409.2 619.5,410.6 625.5,409.2 631.5,403.4 637.5,394.6 643.5,384.0 649.5,376.2 655.5,371.1 661.5,363.6 667.5,361.7 673.5,358.3 679.5,352.2 685.5,345.0 691.5,342.2 697.5,339.9 703.5,337.0 709.5,336.6 715.5,339.5 721.5,346.3 727.5,350.2 733.5,350.9 739.5,353.5 745.5,360.4 751.5,364.1 757.5,362.6 763.5,365.2 769.5,371.2 775.5,371.3 781.5,373.9 787.5,379.4 793.5,382.3 799.5,386.3 805.5,384.4 811.5,386.1 817.5,392.1 823.5,393.8 829.5,393.8 835.5,394.5 841.5,395.2 847.5,395.7 853.5,393.4 859.5,393.9 865.5,394.8 871.5,390.5 877.5,386.9 883.5,386.3 889.5,385.5 895.5,384.3 901.5,383.3 907.5,384.9 913.5,383.3 919.5,382.8 925.5,379.1 931.5,365.6 937.5,350.4 943.5,333.3 949.5,309.3 955.5,293.4 961.5,288.5 967.5,289.1 973.5,284.4 979.5,277.6 985.5,281.7 991.5,281.1 997.5,276.8 1003.5,278.7 1009.5,279.1 1015.5,279.2 1021.5,291.5 1027.5,315.4 1033.5,342.0 1039.5,362.4 1045.5,382.9 1051.5,389.6 1057.5,395.7 1063.5,402.8 1069.5,403.2 1075.5,405.0 1081.5,397.9 1087.5,391.7 1093.5,381.7 1099.5,378.0 1105.5,370.8 1111.5,368.5 1117.5,356.8 1123.5,347.6 1129.5,341.0" fill="none" stroke="#2962ff" stroke-width="1.1" stroke-linejoin="round"/>
<rect x="0" y="223" width="1255" height="1" fill="#e0e3eb"/>
<rect x="1" y="5" width="654" height="22" fill="#fff" fill-opacity="0.6"/>
<rect x="1" y="30" width="169" height="38" fill="#fff" fill-opacity="0.6"/>
<circle cx="15" cy="15.9" r="9" fill="#5b1733"/>
<text x="15" y="18" font-family="Liberation Sans, Arial, sans-serif" font-size="6" font-weight="bold" fill="#fff" text-anchor="middle" letter-spacing="-0.3">2000</text>
<text x="28.7" y="21.3" font-family="Liberation Sans, Arial, sans-serif" font-size="14" fill="#131722" textLength="103.8" lengthAdjust="spacingAndGlyphs">US Russel 2000</text>
<text x="146.3" y="21.3" font-family="Liberation Sans, Arial, sans-serif" font-size="14" fill="#131722" textLength="16.1" lengthAdjust="spacingAndGlyphs">1D</text>
<text x="176.3" y="21.3" font-family="Liberation Sans, Arial, sans-serif" font-size="14" fill="#131722" textLength="88" lengthAdjust="spacingAndGlyphs">CAPITALCOM</text>
<text x="139.5" y="21.3" font-family="Liberation Sans, Arial, sans-serif" font-size="14" fill="#131722" text-anchor="middle">·</text>
<text x="169.6" y="21.3" font-family="Liberation Sans, Arial, sans-serif" font-size="14" fill="#131722" text-anchor="middle">·</text>
<path d="M289.2,7 h10.8 v18 h-10.8 a9,9 0 0 1 0,-18z" fill="#089981" fill-opacity="0.15"/>
<path d="M300,7 h11 a9,9 0 0 1 0,18 h-11z" fill="#e91e63" fill-opacity="0.25"/>
<circle cx="291" cy="16" r="4" fill="#089981"/>
<text x="309.3" y="21.5" font-family="Liberation Sans, Arial, sans-serif" font-size="17" font-weight="bold" fill="#e91e63" text-anchor="middle">≈</text>
<text x="335.8" y="21.3" font-family="Liberation Sans, Arial, sans-serif" font-size="13" fill="#131722">O</text>
<text x="346" y="21.3" font-family="Liberation Sans, Arial, sans-serif" font-size="13" fill="#f23645">2,220.2</text>
<text x="395.6" y="21.3" font-family="Liberation Sans, Arial, sans-serif" font-size="13" fill="#131722">H</text>
<text x="405.4" y="21.3" font-family="Liberation Sans, Arial, sans-serif" font-size="13" fill="#f23645">2,226.3</text>
<text x="455.4" y="21.3" font-family="Liberation Sans, Arial, sans-serif" font-size="13" fill="#131722">L</text>
<text x="463" y="21.3" font-family="Liberation Sans, Arial, sans-serif" font-size="13" fill="#f23645">2,218.6</text>
<text x="512.8" y="21.3" font-family="Liberation Sans, Arial, sans-serif" font-size="13" fill="#131722">C</text>
<text x="521.3" y="21.3" font-family="Liberation Sans, Arial, sans-serif" font-size="13" fill="#f23645">2,219.7</text>
<text x="570" y="21.3" font-family="Liberation Sans, Arial, sans-serif" font-size="13" fill="#f23645">−0.1</text>
<text x="600" y="21.3" font-family="Liberation Sans, Arial, sans-serif" font-size="13" fill="#f23645" textLength="48" lengthAdjust="spacingAndGlyphs">(−0.00%)</text>
<rect x="5.5" y="32.5" width="65" height="33" rx="5" fill="#fff" stroke="#f23645" stroke-width="1"/>
<text x="38" y="47.5" font-family="Liberation Sans, Arial, sans-serif" font-size="13" fill="#f23645" text-anchor="middle">2,219.7</text>
<text x="38" y="60.6" font-family="Liberation Sans, Arial, sans-serif" font-size="10" fill="#f23645" text-anchor="middle">SELL</text>
<text x="85.8" y="52.6" font-family="Liberation Sans, Arial, sans-serif" font-size="10" fill="#131722" text-anchor="middle">0.5</text>
<rect x="101.5" y="32.5" width="65" height="33" rx="5" fill="#fff" stroke="#2962ff" stroke-width="1"/>
<text x="134" y="47.5" font-family="Liberation Sans, Arial, sans-serif" font-size="13" fill="#2962ff" text-anchor="middle">2,220.2</text>
<text x="134" y="60.6" font-family="Liberation Sans, Arial, sans-serif" font-size="10" fill="#2962ff" text-anchor="middle">BUY</text>
<text x="6.2" y="86.7" font-family="Liberation Sans, Arial, sans-serif" font-size="12" fill="#131722">SMA 50 close</text>
<text x="88.8" y="86.7" font-family="Liberation Sans, Arial, sans-serif" font-size="12" fill="#2424ff" textLength="43.4" lengthAdjust="spacingAndGlyphs">2,123.4</text>
<rect x="6.5" y="96.5" width="28" height="20" rx="4" fill="#fff" stroke="#e0e3eb" stroke-width="1"/>
<path d="M16.5,109 l4,-3.8 l4,3.8" fill="none" stroke="#131722" stroke-width="1.6" stroke-linecap="round" stroke-linejoin="round"/>
<text x="6.4" y="244.6" font-family="Liberation Sans, Arial, sans-serif" font-size="12" fill="#131722">MACD 12 26 close</text>
<text x="116.3" y="244.6" font-family="Liberation Sans, Arial, sans-serif" font-size="12" fill="#26a69a">11.6</text>
<text x="147.3" y="244.6" font-family="Liberation Sans, Arial, sans-serif" font-size="12" fill="#2962ff">19.0</text>
<text x="178.2" y="244.6" font-family="Liberation Sans, Arial, sans-serif" font-size="12" fill="#ff6d00">7.4</text>
<rect x="1192" y="0" width="63" height="223" fill="#fff"/>
<rect x="1192" y="224" width="63" height="227" fill="#fff"/>
<clipPath id="cp1"><rect x="1192" y="0" width="63" height="223"/></clipPath><clipPath id="cp2"><rect x="1192" y="224" width="63" height="227"/></clipPath>
<g clip-path="url(#cp1)">
<text x="1201.5" y="29.6" font-family="Liberation Sans, Arial, sans-serif" font-size="12" fill="#131722">2,300.0</text>
<text x="1201.5" y="62.0" font-family="Liberation Sans, Arial, sans-serif" font-size="12" fill="#131722">2,200.0</text>
<text x="1201.5" y="94.3" font-family="Liberation Sans, Arial, sans-serif" font-size="12" fill="#131722">2,100.0</text>
<text x="1201.5" y="126.7" font-family="Liberation Sans, Arial, sans-serif" font-size="12" fill="#131722">2,000.0</text>
<text x="1201.5" y="159.1" font-family="Liberation Sans, Arial, sans-serif" font-size="12" fill="#131722">1,900.0</text>
<text x="1201.5" y="191.4" font-family="Liberation Sans, Arial, sans-serif" font-size="12" fill="#131722">1,800.0</text>
<text x="1201.5" y="223.8" font-family="Liberation Sans, Arial, sans-serif" font-size="12" fill="#131722">1,700.0</text>
</g><g clip-path="url(#cp2)">
<text x="1201.5" y="231.6" font-family="Liberation Sans, Arial, sans-serif" font-size="12" fill="#131722">80.0</text>
<text x="1201.5" y="269.1" font-family="Liberation Sans, Arial, sans-serif" font-size="12" fill="#131722">60.0</text>
<text x="1201.5" y="306.6" font-family="Liberation Sans, Arial, sans-serif" font-size="12" fill="#131722">40.0</text>
<text x="1201.5" y="344.1" font-family="Liberation Sans, Arial, sans-serif" font-size="12" fill="#131722">20.0</text>
<text x="1201.5" y="420.0" font-family="Liberation Sans, Arial, sans-serif" font-size="12" fill="#131722">−20.0</text>
</g>
<path d="M1192,26 H1244.6 a2,2 0 0 1 2,2 V41 a2,2 0 0 1 -2,2 H1192z" fill="#4caf50"/>
<text x="1201.8" y="37.9" font-family="Liberation Sans, Arial, sans-serif" font-size="12" font-weight="bold" fill="#fff">2,244.1</text>
<path d="M1192,42.9 H1250.9 a2,2 0 0 1 2,2 V71.5 a2,2 0 0 1 -2,2 H1192z" fill="#f23645"/>
<text x="1201.8" y="55" font-family="Liberation Sans, Arial, sans-serif" font-size="12" font-weight="bold" fill="#fff">2,219.7</text>
<text x="1201.8" y="69" font-family="Liberation Sans, Arial, sans-serif" font-size="12" font-weight="bold" fill="#fff" fill-opacity="0.72">13:01:12</text>
<path d="M1192,74.3 H1244.6 a2,2 0 0 1 2,2 V88.4 a2,2 0 0 1 -2,2 H1192z" fill="#2f2fff"/>
<text x="1201.8" y="86.5" font-family="Liberation Sans, Arial, sans-serif" font-size="12" font-weight="bold" fill="#fff">2,123.4</text>
<path d="M1192,120.2 H1244.8 a2,2 0 0 1 2,2 V134.8 a2,2 0 0 1 -2,2 H1192z" fill="#9c27b0"/>
<text x="1201.8" y="132.5" font-family="Liberation Sans, Arial, sans-serif" font-size="12" font-weight="bold" fill="#fff">1,982.7</text>
<path d="M1192,144.9 H1244.8 a2,2 0 0 1 2,2 V159.4 a2,2 0 0 1 -2,2 H1192z" fill="#9c27b0"/>
<text x="1201.8" y="157.4" font-family="Liberation Sans, Arial, sans-serif" font-size="12" font-weight="bold" fill="#fff">1,903.7</text>
<path d="M1192,331.1 H1227.9 a2,2 0 0 1 2,2 V346 a2,2 0 0 1 -2,2 H1192z" fill="#2962ff"/>
<text x="1201.8" y="343.8" font-family="Liberation Sans, Arial, sans-serif" font-size="12" font-weight="bold" fill="#fff">19.0</text>
<path d="M1192,348 H1227.9 a2,2 0 0 1 2,2 V362.9 a2,2 0 0 1 -2,2 H1192z" fill="#26a69a"/>
<text x="1201.8" y="360.7" font-family="Liberation Sans, Arial, sans-serif" font-size="12" font-weight="bold" fill="#fff">11.6</text>
<path d="M1192,365.3 H1221 a2,2 0 0 1 2,2 V379.7 a2,2 0 0 1 -2,2 H1192z" fill="#ff6d00"/>
<text x="1201.8" y="377.8" font-family="Liberation Sans, Arial, sans-serif" font-size="12" font-weight="bold" fill="#fff">7.4</text>
<rect x="1192" y="0" width="63" height="33.6" fill="#fff"/>
<rect x="1196.5" y="4.5" width="57" height="25" rx="6" fill="#fff" stroke="#e0e3eb" stroke-width="1"/>
<text x="1200.5" y="21" font-family="Liberation Sans, Arial, sans-serif" font-size="12.4" fill="#131722" textLength="19.8" lengthAdjust="spacingAndGlyphs">USD</text>
<path d="M1243.8,16.3 l2.6,2.4 l2.6,-2.4" fill="none" stroke="#131722" stroke-width="1.5" stroke-linecap="round" stroke-linejoin="round"/>
<rect x="0" y="223" width="1255" height="1" fill="#e0e3eb"/>
<circle cx="1129" cy="210.2" r="9.6" fill="#fff" stroke="#9c27b0" stroke-width="1.4"/>
<path d="M1132,204.8 L1126.6,210.3 H1132 L1126.8,215.6" fill="none" stroke="#9c27b0" stroke-width="1.9" stroke-linejoin="miter" stroke-linecap="butt"/>
<circle cx="1147.2" cy="209.9" r="10" fill="#fff" stroke="#f23645" stroke-width="1.6"/>
<clipPath id="fc"><circle cx="1147.2" cy="209.9" r="7.4"/></clipPath>
<g clip-path="url(#fc)"><rect x="1139" y="201" width="17" height="18" fill="#fff"/><rect x="1139" y="202.5" width="17" height="2.7" fill="#f23645"/><rect x="1139" y="208.3" width="17" height="3" fill="#f23645"/><rect x="1139" y="214" width="17" height="3.4" fill="#f23645"/><rect x="1139" y="201" width="10" height="10.3" fill="#2962ff"/><g fill="#fff"><circle cx="1141.3" cy="204.2" r=".65"/><circle cx="1143.8" cy="204.2" r=".65"/><circle cx="1146.3" cy="204.2" r=".65"/><circle cx="1141.3" cy="206.6" r=".65"/><circle cx="1143.8" cy="206.6" r=".65"/><circle cx="1146.3" cy="206.6" r=".65"/><circle cx="1141.3" cy="209" r=".65"/><circle cx="1143.8" cy="209" r=".65"/><circle cx="1146.3" cy="209" r=".65"/></g></g>
<circle cx="1136.1" cy="203.2" r="2.4" fill="#f23645"/>
<text x="115.5" y="469.1" font-family="Liberation Sans, Arial, sans-serif" font-size="12" stroke="#131722" stroke-width="0.45" fill="#131722" text-anchor="middle">2024</text>
<text x="247.5" y="469.1" font-family="Liberation Sans, Arial, sans-serif" font-size="12"  fill="#131722" text-anchor="middle">Feb</text>
<text x="373.5" y="469.1" font-family="Liberation Sans, Arial, sans-serif" font-size="12"  fill="#131722" text-anchor="middle">Mar</text>
<text x="493.5" y="469.1" font-family="Liberation Sans, Arial, sans-serif" font-size="12"  fill="#131722" text-anchor="middle">Apr</text>
<text x="625.5" y="469.1" font-family="Liberation Sans, Arial, sans-serif" font-size="12"  fill="#131722" text-anchor="middle">May</text>
<text x="763.5" y="469.1" font-family="Liberation Sans, Arial, sans-serif" font-size="12"  fill="#131722" text-anchor="middle">Jun</text>
<text x="883.5" y="469.1" font-family="Liberation Sans, Arial, sans-serif" font-size="12"  fill="#131722" text-anchor="middle">Jul</text>
<text x="1021.5" y="469.1" font-family="Liberation Sans, Arial, sans-serif" font-size="12"  fill="#131722" text-anchor="middle">Aug</text>
<text x="1153.5" y="469.1" font-family="Liberation Sans, Arial, sans-serif" font-size="12"  fill="#131722" text-anchor="middle">Sep</text>
<path d="M1221.5,459.2 h7.4 l3.7,6.2 l-3.7,6.2 h-7.4 l-3.7,-6.2z" fill="none" stroke="#131722" stroke-width="1.2" stroke-linejoin="round"/>
<circle cx="1225.2" cy="465.4" r="1.9" fill="none" stroke="#131722" stroke-width="1.2"/>
<path d="M9,422.1 H21 V436.9 H15.1 V427.8 H9z" fill="#131722"/>
<circle cx="25.9" cy="425.2" r="2.8" fill="#131722"/>
<path d="M32,422.1 H38.8 L32.6,436.9 H26.1z" fill="#131722"/>
<text x="46" y="437" font-family="Liberation Sans, Arial, sans-serif" font-size="20.6" font-weight="bold" fill="#131722" textLength="121" lengthAdjust="spacingAndGlyphs">TradingView</text>
</svg>
</body></html>
